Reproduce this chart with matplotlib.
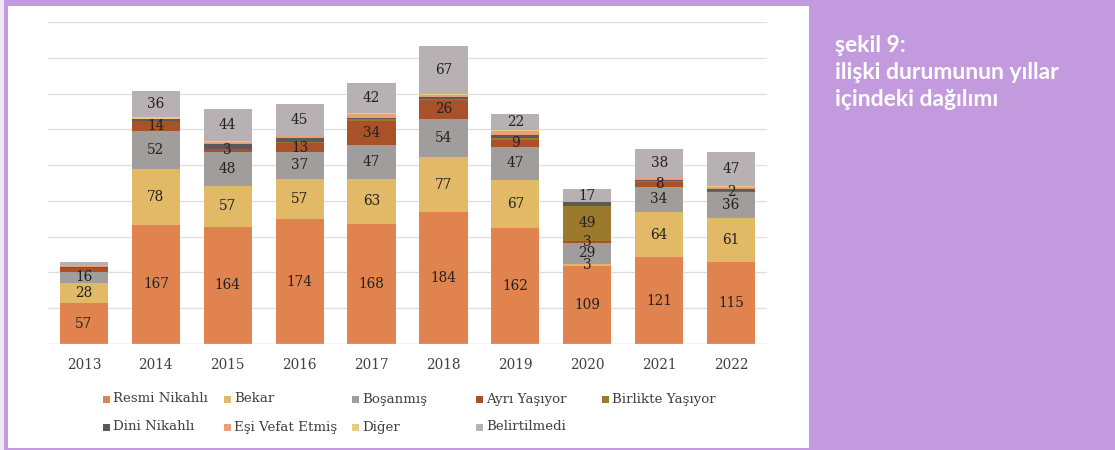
import matplotlib
matplotlib.use("Agg")
import matplotlib.pyplot as plt
from matplotlib.patches import Rectangle
import numpy as np

years = ["2013", "2014", "2015", "2016", "2017", "2018", "2019", "2020", "2021", "2022"]

series_names = ["Resmi Nikahlı", "Bekar", "Boşanmış", "Ayrı Yaşıyor", "Birlikte Yaşıyor",
                "Dini Nikahlı", "Eşi Vefat Etmiş", "Diğer", "Belirtilmedi"]

resmi_nikahli = [57, 167, 164, 174, 168, 184, 162, 109, 121, 115]
bekar = [28, 78, 57, 57, 63, 77, 67, 3, 64, 61]
bosanmis = [16, 52, 48, 37, 47, 54, 47, 29, 34, 36]
ayri_yasiyor = [5, 14, 3, 13, 34, 26, 9, 3, 8, 2]
birlikte_yasiyor = [0, 1, 0, 1, 2, 1, 3, 49, 1, 0]
dini_nikahli = [1, 2, 7, 6, 2, 3, 4, 5, 1, 3]
esi_vefat = [2, 1, 3, 2, 5, 3, 5, 1, 4, 3]
diger = [0, 2, 2, 1, 2, 1, 2, 0, 1, 1]
belirtilmedi = [5, 36, 44, 45, 42, 67, 22, 17, 38, 47]

values = [resmi_nikahli, bekar, bosanmis, ayri_yasiyor, birlikte_yasiyor,
          dini_nikahli, esi_vefat, diger, belirtilmedi]

colors = ["#E0834F", "#E2B966", "#A29D9D", "#A9522A", "#9B7A2C",
          "#5E5858", "#EB9F77", "#E9CB84", "#B7B1B3"]

labeled_series = {"Resmi Nikahlı", "Bekar", "Boşanmış", "Ayrı Yaşıyor", "Birlikte Yaşıyor", "Belirtilmedi"}
hidden_labels = {("Ayrı Yaşıyor", "2013"), ("Belirtilmedi", "2013"), ("Birlikte Yaşıyor", "2014"),
                 ("Birlikte Yaşıyor", "2016"), ("Birlikte Yaşıyor", "2017"), ("Birlikte Yaşıyor", "2018"),
                 ("Birlikte Yaşıyor", "2019"), ("Birlikte Yaşıyor", "2021")}

title_lines = ["şekil 9:", "ilişki durumunun yıllar", "içindeki dağılımı"]

W, H = 1115, 450
fig = plt.figure(figsize=(W / 100, H / 100), dpi=100)
fig.patch.set_facecolor("#C39ADE")

# white panel
fig.patches.append(Rectangle((0, 0), 4 / W, 1, transform=fig.transFigure,
                             facecolor="#EFE6F6", edgecolor="none", zorder=-10))
fig.patches.append(Rectangle((8 / W, 2 / H), (809 - 8) / W, (444 - 2) / H,
                             transform=fig.transFigure, facecolor="white",
                             edgecolor="none", zorder=-10))

ax_left, ax_right = 48, 767
ax_bottom, ax_top = 344, 22
ax = fig.add_axes([ax_left / W, (H - ax_bottom) / H, (ax_right - ax_left) / W,
                   (ax_bottom - ax_top) / H], zorder=2)
ax.set_facecolor("none")

x = np.arange(len(years))
bottom = np.zeros(len(years))
for name, vals, col in zip(series_names, values, colors):
    vals = np.array(vals, dtype=float)
    ax.bar(x, vals, 0.67, bottom=bottom, color=col, edgecolor="none", zorder=3)
    if name in labeled_series:
        for xi, yr, v, b in zip(x, years, vals, bottom):
            if v > 0 and (name, yr) not in hidden_labels:
                ax.text(xi, b + v / 2, f"{int(v)}", ha="center", va="center",
                        fontsize=9.8, family="DejaVu Serif", color="#222222", zorder=5)
    bottom += vals

ax.set_xlim(-0.5, len(years) - 0.5)
ax.set_ylim(0, 450)
ax.set_yticks(np.arange(50, 451, 50))
ax.yaxis.grid(True, color="#DEDEDE", linewidth=0.9, zorder=0)
ax.set_axisbelow(True)
ax.set_yticklabels([])
ax.tick_params(axis="y", length=0)
ax.axhline(0, color="#BFBFBF", linewidth=1.0, zorder=4)
for s in ax.spines.values():
    s.set_visible(False)
ax.set_xticks(x)
ax.set_xticklabels(years, fontsize=9.8, family="DejaVu Serif", color="#404040")
ax.tick_params(axis="x", length=0, pad=10)

# legend (manual, Excel-like layout)
col_x = [103, 224, 352, 476, 602]
row_y = [399, 427]
order = [[0, 1, 2, 3, 4], [5, 6, 7, 8]]
for r, idxs in enumerate(order):
    for c, i in enumerate(idxs):
        sx = col_x[c]
        sy = row_y[r]
        fig.patches.append(Rectangle((sx / W, (H - sy - 3.5) / H), 7 / W, 7 / H,
                                     transform=fig.transFigure, facecolor=colors[i],
                                     edgecolor="none"))
        fig.text((sx + 10) / W, (H - sy) / H, series_names[i], ha="left", va="center",
                 fontsize=9.6, family="DejaVu Serif", color="#404040")

fig.text(835 / W, (H - 35) / H, "\n".join(title_lines), ha="left", va="top",
         fontsize=16.5, fontweight="bold", family="Lato", color="white", linespacing=1.36)

fig.savefig("out.png", dpi=100, facecolor=fig.get_facecolor())
